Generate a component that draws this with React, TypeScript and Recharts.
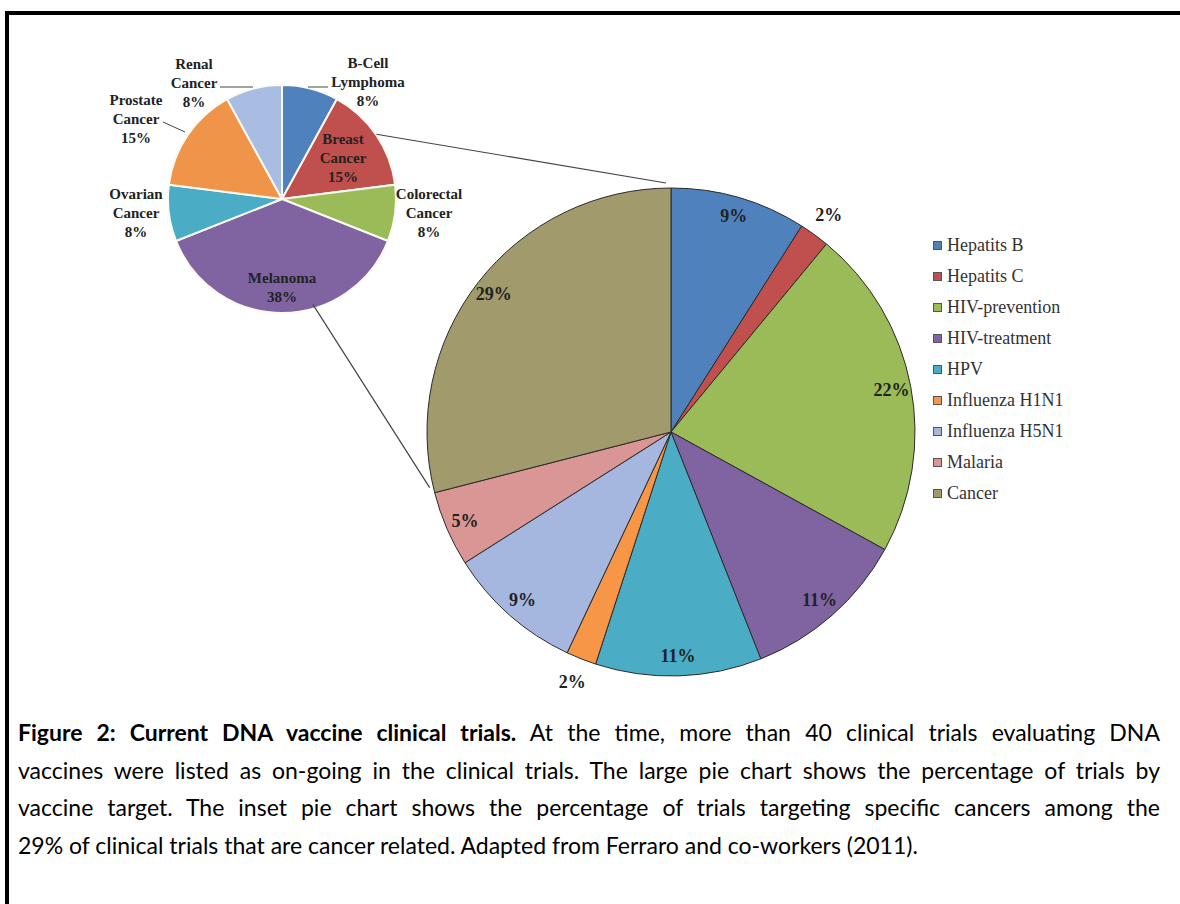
import { PieChart, Pie, Cell, Legend } from 'recharts';

// main pie: trial share by vaccine target (%)
const targets = ['Hepatits B', 'Hepatits C', 'HIV-prevention', 'HIV-treatment', 'HPV', 'Influenza H1N1', 'Influenza H5N1', 'Malaria', 'Cancer'];
const targetShares = [9, 2, 22, 11, 11, 2, 9, 5, 29];
const targetColors = ['#4f81bd', '#c0504d', '#9bbb59', '#8064a2', '#4bacc6', '#f79646', '#a5b7de', '#d99694', '#a09a6c'];

// inset pie: cancer trials by cancer type (%)
const cancers = ['B-Cell Lymphoma', 'Breast Cancer', 'Colorectal Cancer', 'Melanoma', 'Ovarian Cancer', 'Prostate Cancer', 'Renal Cancer'];
const cancerShares = [8, 15, 8, 38, 8, 15, 8];
const cancerColors = ['#4f81bd', '#c0504d', '#9bbb59', '#8064a2', '#4bacc6', '#f0944a', '#a9bde3'];

const captionTitle = 'Figure 2: Current DNA vaccine clinical trials.';
const captionLines = [
  ' At the time, more than 40 clinical trials evaluating DNA',
  'vaccines were listed as on-going in the clinical trials. The large pie chart shows the percentage of trials by',
  'vaccine target. The inset pie chart shows the percentage of trials targeting specific cancers among the',
  '29% of clinical trials that are cancer related. Adapted from Ferraro and co-workers (2011).',
];

const targetData = targets.map((name, i) => ({ name, value: targetShares[i], fill: targetColors[i] }));
const cancerData = cancers.map((name, i) => ({ name, value: cancerShares[i], fill: cancerColors[i] }));

const RAD = Math.PI / 180;
const BIG = { cx: 666, cy: 427, r: 244 };
const INSET = { cx: 277, cy: 194, r: 114 };

// label placement for the inset, relative to the inset centre
const insetLabelPos = [
  { dx: 86, dy: -117, lead: [26, -112, 46, -112] },
  { dx: 61, dy: -41 },
  { dx: 147, dy: 14 },
  { dx: 0, dy: 88 },
  { dx: -146, dy: 14 },
  { dx: -146, dy: -80, lead: [-119, -77, -97, -67] },
  { dx: -88, dy: -116, lead: [-62, -112, -29, -112] },
];

const serif = '"Liberation Serif", "Times New Roman", serif';

function polar(cx: number, cy: number, r: number, angle: number) {
  return [cx + r * Math.cos(-angle * RAD), cy + r * Math.sin(-angle * RAD)];
}

function BigLabel(props: any) {
  const { cx, cy, midAngle, outerRadius, value } = props;
  const k = value <= 2 ? 1.1 : 0.92;
  const [x, y] = polar(cx, cy, outerRadius * k, midAngle);
  return (
    <text x={x} y={y} textAnchor="middle" dominantBaseline="central" fontFamily={serif} fontWeight="bold" fontSize={18} fill="#222">
      {value}%
    </text>
  );
}

function InsetLabel(props: any) {
  const { cx, cy, index, name, value } = props;
  const pos = insetLabelPos[index];
  const lines = [...String(name).split(' '), `${value}%`];
  const lh = 19;
  const x = cx + pos.dx;
  const y0 = cy + pos.dy - ((lines.length - 1) * lh) / 2;
  return (
    <g>
      {pos.lead && (
        <line x1={cx + pos.lead[0]} y1={cy + pos.lead[1]} x2={cx + pos.lead[2]} y2={cy + pos.lead[3]} stroke="#444" strokeWidth={1} />
      )}
      <text x={x} textAnchor="middle" fontFamily={serif} fontWeight="bold" fontSize={15} fill="#222">
        {lines.map((t, i) => (
          <tspan key={i} x={x} y={y0 + i * lh} dominantBaseline="central">{t}</tspan>
        ))}
      </text>
    </g>
  );
}

function LegendList(props: any) {
  const payload: any[] = props.payload || [];
  const items = targets.map((n) => payload.find((p) => p.value === n)).filter(Boolean);
  return (
    <div>
      {items.map((p: any, i: number) => (
        <div key={i} style={{ display: 'flex', alignItems: 'center', height: 31, fontFamily: serif, fontSize: 18, color: '#333' }}>
          <span style={{ width: 9, height: 9, background: p.color, border: '1px solid #555', marginRight: 5, boxSizing: 'border-box' }} />
          {p.value}
        </div>
      ))}
    </div>
  );
}

function Connectors() {
  // lines from the inset to the cancer slice of the main pie
  const before = targetShares.slice(0, targets.length - 1).reduce((a, b) => a + b, 0);
  const total = targetShares.reduce((a, b) => a + b, 0);
  const startCancer = 90 - (before / total) * 360;
  const [ax, ay] = polar(INSET.cx, INSET.cy, INSET.r + 2, 31);
  const [bx, by] = polar(BIG.cx, BIG.cy, BIG.r, 90);
  const [cx2, cy2] = polar(INSET.cx, INSET.cy, INSET.r + 2, -72);
  const [dx2, dy2] = polar(BIG.cx, BIG.cy, BIG.r, startCancer);
  return (
    <svg width={1180} height={720} style={{ position: 'absolute', left: 0, top: 0, pointerEvents: 'none' }}>
      <line x1={ax} y1={ay} x2={bx} y2={by} stroke="#444" strokeWidth={1.2} />
      <line x1={cx2} y1={cy2} x2={dx2} y2={dy2} stroke="#444" strokeWidth={1.2} />
    </svg>
  );
}

export default function App() {
  return (
    <div style={{ position: 'fixed', left: 0, top: 0, width: 1180, height: 904, background: '#fff', overflow: 'hidden' }}>
      <div style={{ position: 'absolute', left: 5, top: 11, width: 1200, height: 1000, borderLeft: '4px solid #000', borderTop: '4px solid #000' }} />

      <div style={{ position: 'absolute', left: 0, top: 0 }}>
        <PieChart width={1180} height={720}>
          <Pie
            data={targetData}
            dataKey="value"
            nameKey="name"
            cx={BIG.cx}
            cy={BIG.cy}
            outerRadius={BIG.r}
            startAngle={90}
            endAngle={-270}
            stroke="#2b2b2b"
            strokeWidth={1}
            label={BigLabel}
            labelLine={false}
            isAnimationActive={false}
          >
            {targetData.map((d, i) => <Cell key={i} fill={d.fill} />)}
          </Pie>
          <Legend
            layout="vertical"
            content={LegendList}
            wrapperStyle={{ position: 'absolute', left: 933, top: 230, width: 220 }}
          />
        </PieChart>
      </div>

      <div style={{ position: 'absolute', left: 0, top: 0 }}>
        <PieChart width={560} height={340}>
          <Pie
            data={cancerData}
            dataKey="value"
            nameKey="name"
            cx={INSET.cx}
            cy={INSET.cy}
            outerRadius={INSET.r}
            startAngle={90}
            endAngle={-270}
            stroke="#fbfaf0"
            strokeWidth={2}
            label={InsetLabel}
            labelLine={false}
            isAnimationActive={false}
          >
            {cancerData.map((d, i) => <Cell key={i} fill={d.fill} />)}
          </Pie>
        </PieChart>
      </div>

      <Connectors />

      <div style={{ position: 'absolute', left: 18, top: 714, width: 1142, fontFamily: 'Lato, sans-serif', fontSize: 23, color: '#000' }}>
        {captionLines.map((t, i) => (
          <div key={i} style={{ height: 37.5, lineHeight: '37.5px', textAlign: 'justify', textAlignLast: i < captionLines.length - 1 ? 'justify' : 'left', whiteSpace: 'nowrap' }}>
            {i === 0 && <b>{captionTitle}</b>}
            {t}
          </div>
        ))}
      </div>
    </div>
  );
}
